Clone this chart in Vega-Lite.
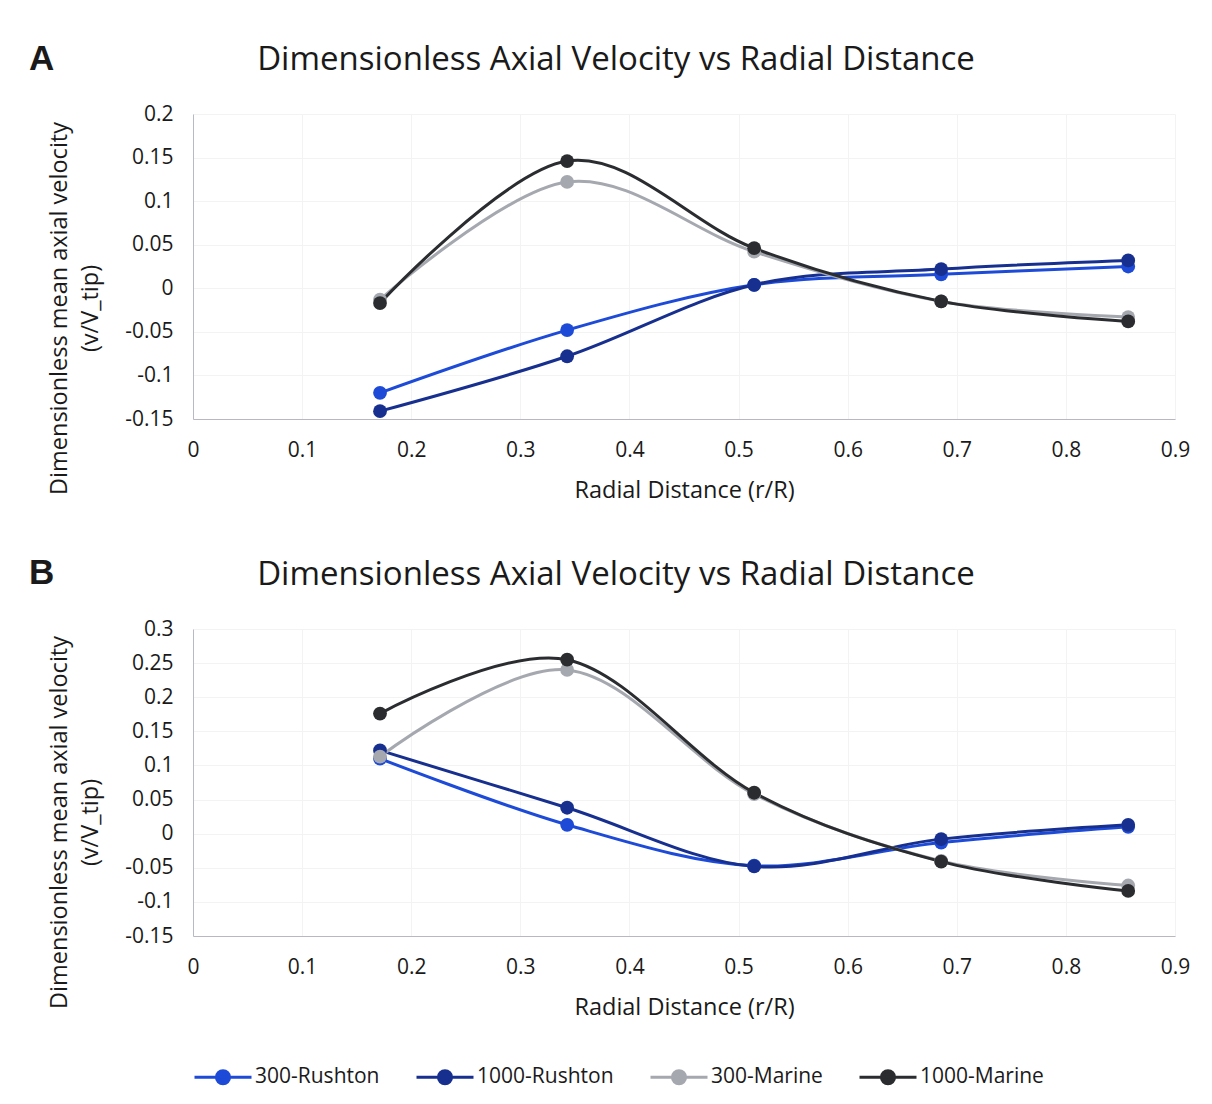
{
  "$schema": "https://vega.github.io/schema/vega-lite/v6.json",
  "background": "white",
  "padding": {"left": 29, "top": 42, "right": 20, "bottom": 10},
  "config": {
    "font": "Open Sans",
    "view": {"stroke": null},
    "axis": {
      "labelFont": "Open Sans",
      "labelFontSize": 21,
      "labelColor": "#1a1a1a",
      "titleFont": "Open Sans",
      "titleFontSize": 23.5,
      "titleFontWeight": "normal",
      "titleColor": "#1a1a1a",
      "ticks": false,
      "grid": true,
      "gridColor": "#f3f3f3",
      "gridWidth": 1
    },
    "title": {"font": "Open Sans", "fontWeight": "normal", "color": "#1a1a1a"},
    "legend": {
      "labelFont": "Open Sans",
      "labelFontSize": 21,
      "labelColor": "#1a1a1a"
    }
  },
  "datasets": {
    "panelA": [
      {"series": "300-Rushton", "r": 0.1714, "v": -0.120},
      {"series": "300-Rushton", "r": 0.3429, "v": -0.048},
      {"series": "300-Rushton", "r": 0.5143, "v": 0.004},
      {"series": "300-Rushton", "r": 0.6857, "v": 0.016},
      {"series": "300-Rushton", "r": 0.8571, "v": 0.025},
      {"series": "1000-Rushton", "r": 0.1714, "v": -0.141},
      {"series": "1000-Rushton", "r": 0.3429, "v": -0.078},
      {"series": "1000-Rushton", "r": 0.5143, "v": 0.004},
      {"series": "1000-Rushton", "r": 0.6857, "v": 0.022},
      {"series": "1000-Rushton", "r": 0.8571, "v": 0.032},
      {"series": "300-Marine", "r": 0.1714, "v": -0.013},
      {"series": "300-Marine", "r": 0.3429, "v": 0.122},
      {"series": "300-Marine", "r": 0.5143, "v": 0.042},
      {"series": "300-Marine", "r": 0.6857, "v": -0.015},
      {"series": "300-Marine", "r": 0.8571, "v": -0.033},
      {"series": "1000-Marine", "r": 0.1714, "v": -0.017},
      {"series": "1000-Marine", "r": 0.3429, "v": 0.146},
      {"series": "1000-Marine", "r": 0.5143, "v": 0.046},
      {"series": "1000-Marine", "r": 0.6857, "v": -0.015},
      {"series": "1000-Marine", "r": 0.8571, "v": -0.038}
    ],
    "panelB": [
      {"series": "300-Rushton", "r": 0.1714, "v": 0.110},
      {"series": "300-Rushton", "r": 0.3429, "v": 0.013},
      {"series": "300-Rushton", "r": 0.5143, "v": -0.047},
      {"series": "300-Rushton", "r": 0.6857, "v": -0.013},
      {"series": "300-Rushton", "r": 0.8571, "v": 0.010},
      {"series": "1000-Rushton", "r": 0.1714, "v": 0.122},
      {"series": "1000-Rushton", "r": 0.3429, "v": 0.038},
      {"series": "1000-Rushton", "r": 0.5143, "v": -0.048},
      {"series": "1000-Rushton", "r": 0.6857, "v": -0.008},
      {"series": "1000-Rushton", "r": 0.8571, "v": 0.013},
      {"series": "300-Marine", "r": 0.1714, "v": 0.113},
      {"series": "300-Marine", "r": 0.3429, "v": 0.240},
      {"series": "300-Marine", "r": 0.5143, "v": 0.058},
      {"series": "300-Marine", "r": 0.6857, "v": -0.040},
      {"series": "300-Marine", "r": 0.8571, "v": -0.076},
      {"series": "1000-Marine", "r": 0.1714, "v": 0.176},
      {"series": "1000-Marine", "r": 0.3429, "v": 0.255},
      {"series": "1000-Marine", "r": 0.5143, "v": 0.060},
      {"series": "1000-Marine", "r": 0.6857, "v": -0.041},
      {"series": "1000-Marine", "r": 0.8571, "v": -0.084}
    ]
  },
  "vconcat": [
    {
      "title": {"text": "A", "anchor": "start", "frame": "group", "fontSize": 35, "fontWeight": "bold", "font": "Liberation Sans", "dy": 37, "dx": -164},
      "vconcat": [
        {
          "title": {"text": "Dimensionless Axial Velocity vs Radial Distance", "anchor": "middle", "frame": "group", "fontSize": 33, "offset": 26, "dx": -68},
          "width": 982,
          "height": 305,
          "data": {"name": "panelA"},
          "mark": {"type": "line", "interpolate": "cardinal", "strokeWidth": 3, "point": {"filled": true, "size": 190, "opacity": 1}},
          "encoding": {
            "x": {"field": "r", "type": "quantitative", "title": "Radial Distance (r/R)",
                  "scale": {"domain": [0, 0.9], "nice": false},
                  "axis": {"values": [0, 0.1, 0.2, 0.3, 0.4, 0.5, 0.6, 0.7, 0.8, 0.9], "labelExpr": "'' + datum.value", "labelPadding": 20, "titlePadding": 18, "domainColor": "#b8b8c0", "labelFlush": false}},
            "y": {"field": "v", "type": "quantitative", "title": ["Dimensionless mean axial velocity", "(v/V_tip)"],
                  "scale": {"domain": [-0.15, 0.2], "nice": false, "zero": false},
                  "axis": {"values": [-0.15, -0.1, -0.05, 0, 0.05, 0.1, 0.15, 0.2], "labelExpr": "'' + datum.value", "labelPadding": 20, "titlePadding": 22, "domainColor": "#b8b8c8", "titleLineHeight": 31, "titleY": 194}},
            "color": {"field": "series", "type": "nominal", "sort": null,
                      "scale": {"domain": ["300-Rushton", "1000-Rushton", "300-Marine", "1000-Marine"], "range": ["#1d4bd8", "#17308f", "#a6a8b0", "#2a2c2f"]},
                      "legend": {
                        "title": null,
                        "orient": "bottom",
                        "direction": "horizontal",
                        "offset": 28,
                        "columnPadding": 30,
                        "symbolType": "M-1,0L1,0M0.23,0A0.23,0.23,0,1,1,-0.23,0A0.23,0.23,0,1,1,0.23,0Z",
                        "symbolSize": 3249,
                        "symbolStrokeWidth": 3,
                        "labelOffset": 2,
                        "encode": {"symbols": {"update": {"fill": {"scale": "color", "field": "value"}, "stroke": {"scale": "color", "field": "value"}, "opacity": {"value": 1}}}}
                      }}
          }
        }
      ]
    },
    {
      "title": {"text": "B", "anchor": "start", "frame": "group", "fontSize": 35, "fontWeight": "bold", "font": "Liberation Sans", "dy": 36, "dx": -164},
      "vconcat": [
        {
          "title": {"text": "Dimensionless Axial Velocity vs Radial Distance", "anchor": "middle", "frame": "group", "fontSize": 33, "offset": 26, "dx": -68},
          "width": 982,
          "height": 307,
          "data": {"name": "panelB"},
          "mark": {"type": "line", "interpolate": "cardinal", "strokeWidth": 3, "point": {"filled": true, "size": 190, "opacity": 1}},
          "encoding": {
            "x": {"field": "r", "type": "quantitative", "title": "Radial Distance (r/R)",
                  "scale": {"domain": [0, 0.9], "nice": false},
                  "axis": {"values": [0, 0.1, 0.2, 0.3, 0.4, 0.5, 0.6, 0.7, 0.8, 0.9], "labelExpr": "'' + datum.value", "labelPadding": 20, "titlePadding": 18, "domainColor": "#b8b8c0", "labelFlush": false}},
            "y": {"field": "v", "type": "quantitative", "title": ["Dimensionless mean axial velocity", "(v/V_tip)"],
                  "scale": {"domain": [-0.15, 0.3], "nice": false, "zero": false},
                  "axis": {"values": [-0.15, -0.1, -0.05, 0, 0.05, 0.1, 0.15, 0.2, 0.25, 0.3], "labelExpr": "'' + datum.value", "labelPadding": 20, "titlePadding": 22, "domainColor": "#b8b8c8", "titleLineHeight": 31, "titleY": 193}},
            "color": {"field": "series", "type": "nominal", "sort": null,
                      "scale": {"domain": ["300-Rushton", "1000-Rushton", "300-Marine", "1000-Marine"], "range": ["#1d4bd8", "#17308f", "#a6a8b0", "#2a2c2f"]},
                      "legend": {
                        "title": null,
                        "orient": "bottom",
                        "direction": "horizontal",
                        "offset": 28,
                        "columnPadding": 30,
                        "symbolType": "M-1,0L1,0M0.23,0A0.23,0.23,0,1,1,-0.23,0A0.23,0.23,0,1,1,0.23,0Z",
                        "symbolSize": 3249,
                        "symbolStrokeWidth": 3,
                        "labelOffset": 2,
                        "encode": {"symbols": {"update": {"fill": {"scale": "color", "field": "value"}, "stroke": {"scale": "color", "field": "value"}, "opacity": {"value": 1}}}}
                      }}
          }
        }
      ]
    }
  ],
  "spacing": 54,
  "resolve": {"scale": {"color": "shared"}}
}
